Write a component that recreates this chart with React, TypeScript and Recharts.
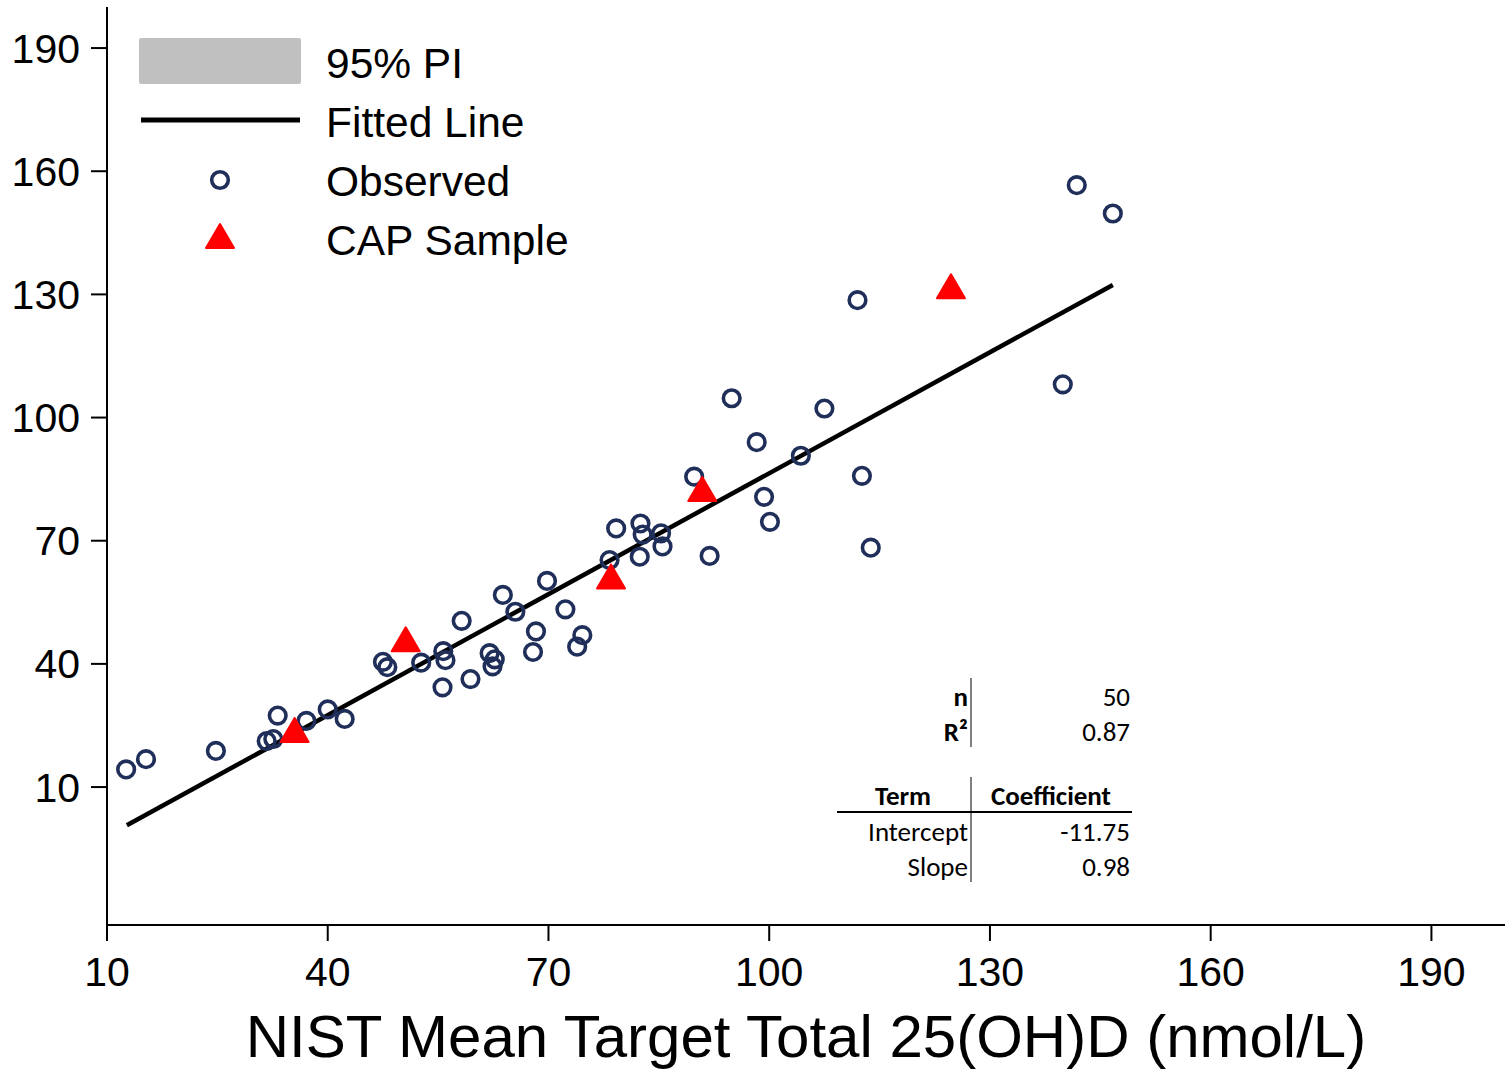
import React from 'react';
import { ScatterChart, Scatter, XAxis, YAxis } from 'recharts';

const observedX = [12.6, 15.3, 24.8, 31.7, 32.6, 33.2, 37.1, 40.0, 42.3, 47.5, 48.1, 52.7, 55.7, 56.0, 55.6, 58.2, 59.4, 62.0, 62.7, 62.4, 63.8, 65.5, 68.3, 67.9, 69.8, 72.3, 74.6, 73.9, 78.3, 79.2, 82.5, 82.8, 82.4, 85.3, 85.5, 89.8, 91.9, 94.9, 98.3, 99.3, 100.1, 104.3, 107.5, 112.0, 112.6, 113.8, 139.9, 141.8, 146.7];
const observedY = [14.3, 16.8, 18.8, 21.2, 21.7, 27.4, 26.1, 28.9, 26.6, 40.5, 39.2, 40.3, 43.1, 40.9, 34.3, 50.5, 36.3, 42.6, 41.1, 39.4, 56.8, 52.7, 47.9, 42.9, 60.2, 53.3, 47.0, 44.2, 65.3, 73.0, 74.2, 71.5, 66.1, 71.8, 68.6, 85.6, 66.3, 104.7, 94.0, 80.7, 74.6, 90.7, 102.2, 128.6, 85.8, 68.3, 108.1, 156.6, 149.7];

const capX = [35.5, 50.6, 78.5, 90.9, 124.7];
const capY = [23.9, 46.0, 61.3, 82.6, 132.0];

const fitX = [12.7, 146.7];
const fitY = [0.7, 132.3];

const xTicks = [10, 40, 70, 100, 130, 160, 190];
const yTicks = [10, 40, 70, 100, 130, 160, 190];

const legendLabels = ['95% PI', 'Fitted Line', 'Observed', 'CAP Sample'];
const statsTop = [
  { label: 'n', value: '50' },
  { label: 'R²', value: '0.87' },
];
const coefHeader = ['Term', 'Coefficient'];
const coefRows = [
  { term: 'Intercept', value: '-11.75' },
  { term: 'Slope', value: '0.98' },
];
const xTitle = 'NIST Mean Target Total 25(OH)D (nmol/L)';

const observed = observedX.map((x, i) => ({ x, y: observedY[i] }));
const cap = capX.map((x, i) => ({ x, y: capY[i] }));
const fit = fitX.map((x, i) => ({ x, y: fitY[i] }));

const NAVY = '#1f2f5a';
const SANS = '"Liberation Sans", Arial, Helvetica, sans-serif';
const CAL = 'Carlito, Calibri, Lato, sans-serif';
const TFS = 27;

const CircleShape = (props: any) => {
  const { cx, cy } = props;
  if (cx == null || cy == null) return <g />;
  return <circle cx={cx} cy={cy} r={8.3} fill="none" stroke={NAVY} strokeWidth={3.6} />;
};

const TriangleShape = (props: any) => {
  const { cx, cy } = props;
  if (cx == null || cy == null) return <g />;
  const d = `M${cx},${cy - 12} L${cx + 14},${cy + 12} L${cx - 14},${cy + 12} Z`;
  return <path d={d} fill="#ff0000" stroke="#ff0000" strokeWidth={2} strokeLinejoin="round" />;
};

const NoShape = () => <g />;

export default function App() {
  return (
    <div style={{ position: 'absolute', left: 0, top: 0, width: 1509, height: 1070, background: '#fff' }}>
      <ScatterChart width={1509} height={1070} margin={{ top: 7, right: 4, left: 0, bottom: 0 }}>
        <XAxis
          type="number"
          dataKey="x"
          domain={[10, 200]}
          ticks={xTicks}
          allowDataOverflow
          height={145}
          tickSize={16}
          tickMargin={16}
          axisLine={{ stroke: '#000', strokeWidth: 2 }}
          tickLine={{ stroke: '#000', strokeWidth: 2 }}
          tick={{ fontSize: 41, fill: '#000', fontFamily: SANS }}
          label={{ value: xTitle, position: 'insideBottom', offset: 13, fontSize: 60, fill: '#000', fontFamily: SANS }}
        />
        <YAxis
          type="number"
          dataKey="y"
          domain={[-23.6, 200]}
          ticks={yTicks}
          allowDataOverflow
          width={107}
          tickSize={16}
          tickMargin={11}
          axisLine={{ stroke: '#000', strokeWidth: 2 }}
          tickLine={{ stroke: '#000', strokeWidth: 2 }}
          tick={{ fontSize: 41, fill: '#000', fontFamily: SANS }}
        />
        <Scatter
          name="Fitted Line"
          data={fit}
          line={{ stroke: '#000', strokeWidth: 4.5 }}
          shape={NoShape}
          isAnimationActive={false}
        />
        <Scatter name="Observed" data={observed} shape={CircleShape} isAnimationActive={false} />
        <Scatter name="CAP Sample" data={cap} shape={TriangleShape} isAnimationActive={false} />
      </ScatterChart>
      <svg width={1509} height={1070} style={{ position: 'absolute', left: 0, top: 0, pointerEvents: 'none' }}>
        {/* Legend */}
        <rect x={139} y={38} width={162} height={46} rx={2} fill="#c0c0c0" />
        <line x1={141} y1={120} x2={300} y2={120} stroke="#000" strokeWidth={5} />
        <circle cx={220} cy={180} r={8.3} fill="none" stroke={NAVY} strokeWidth={3.6} />
        <path d="M220,224 L234,248 L206,248 Z" fill="#ff0000" stroke="#ff0000" strokeWidth={2} strokeLinejoin="round" />
        {legendLabels.map((t, i) => (
          <text key={t} x={326} y={78 + i * 59} fontSize={42.5} fontFamily={SANS} fill="#000">
            {t}
          </text>
        ))}
        {/* Stats table */}
        <line x1={971} y1={678} x2={971} y2={747} stroke="#000" strokeWidth={1} />
        {statsTop.map((r, i) => (
          <g key={r.label}>
            <text x={968} y={706 + i * 35} fontSize={TFS} fontWeight="bold" textAnchor="end" fontFamily={CAL} fill="#000">
              {r.label}
            </text>
            <text x={1130} y={706 + i * 35} fontSize={TFS} textAnchor="end" fontFamily={CAL} fill="#000">
              {r.value}
            </text>
          </g>
        ))}
        <line x1={971} y1={777} x2={971} y2={882} stroke="#000" strokeWidth={1} />
        <line x1={837} y1={812} x2={1132} y2={812} stroke="#000" strokeWidth={2} />
        <text x={903} y={805} fontSize={TFS} fontWeight="bold" textAnchor="middle" fontFamily={CAL} fill="#000">
          {coefHeader[0]}
        </text>
        <text x={1051} y={805} fontSize={TFS} fontWeight="bold" textAnchor="middle" fontFamily={CAL} fill="#000">
          {coefHeader[1]}
        </text>
        {coefRows.map((r, i) => (
          <g key={r.term}>
            <text x={968} y={841 + i * 35} fontSize={TFS} textAnchor="end" fontFamily={CAL} fill="#000">
              {r.term}
            </text>
            <text x={1130} y={841 + i * 35} fontSize={TFS} textAnchor="end" fontFamily={CAL} fill="#000">
              {r.value}
            </text>
          </g>
        ))}
      </svg>
    </div>
  );
}
